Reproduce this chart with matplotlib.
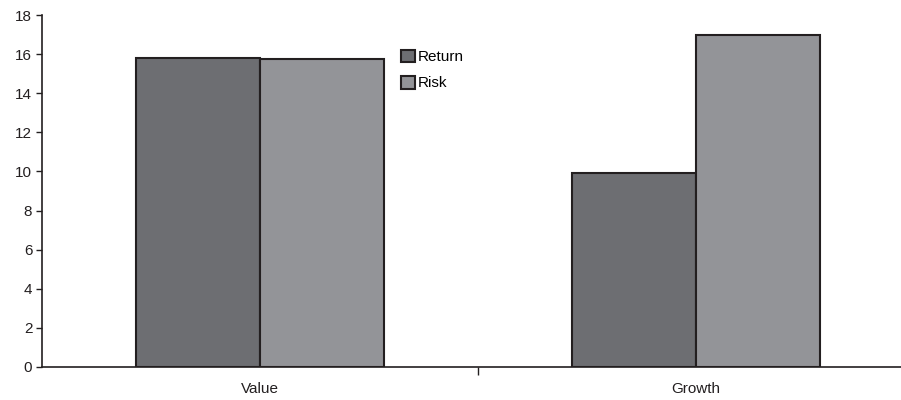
import matplotlib.pyplot as plt
import numpy as np

plt.rcParams['font.family'] = ['Liberation Sans', 'DejaVu Sans']

categories = ['Value', 'Growth']
series = ['Return', 'Risk']
returns = [15.8, 9.9]
risks = [15.75, 17.0]
colors = ['#6d6e72', '#939498']

fig = plt.figure(figsize=(9.01, 4.0), dpi=100)
ax = fig.add_axes([42 / 901, 33 / 400, 872 / 901, 352 / 400])

x = np.arange(len(categories))
w = 0.285
ax.bar(x - w / 2, returns, w, color=colors[0], edgecolor='#231f20', linewidth=1.5, label=series[0])
ax.bar(x + w / 2, risks, w, color=colors[1], edgecolor='#231f20', linewidth=1.5, label=series[1])

ax.set_xlim(-0.5, 1.5)
ax.set_ylim(0, 18)
ax.set_yticks(np.arange(0, 19, 2))
ax.set_xticks([0.5])
ax.set_xticklabels([''])
ax.set_xticks(x, minor=True)
ax.set_xticklabels(categories, minor=True)
ax.tick_params(axis='x', which='minor', length=0, pad=11, labelsize=11, colors='#231f20')
ax.tick_params(axis='x', which='major', length=6, width=1, direction='out', color='#231f20')
ax.tick_params(axis='y', length=4, width=1, labelsize=11, colors='#231f20', pad=3)

for s in ['top', 'right']:
    ax.spines[s].set_visible(False)
for s in ['left', 'bottom']:
    ax.spines[s].set_color('#231f20')
    ax.spines[s].set_linewidth(1.2)

fig.legend(loc='upper left', bbox_to_anchor=(387 / 901, 1 - 36 / 400), frameon=False,
           handlelength=0.9, handleheight=0.9, handletextpad=0.2, labelspacing=0.75,
           fontsize=11)

fig.savefig('out.png', dpi=100)
